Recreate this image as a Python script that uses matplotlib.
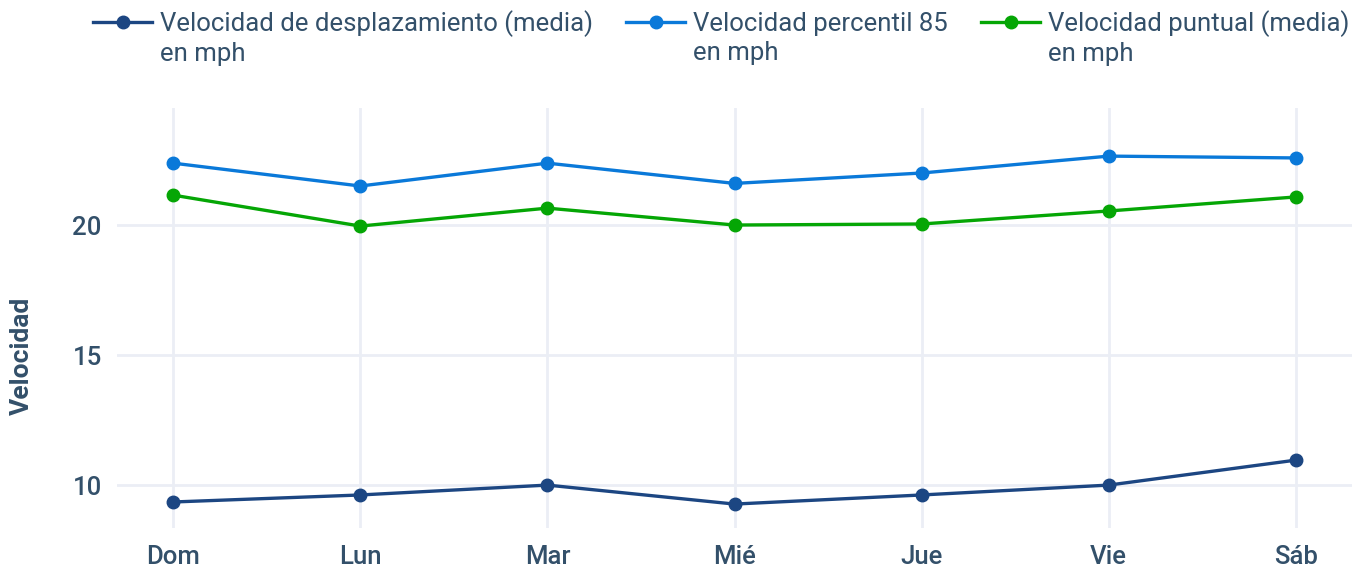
import matplotlib.pyplot as plt

plt.rcParams['font.family'] = ['Roboto', 'DejaVu Sans']

dias = ['Dom', 'Lun', 'Mar', 'Mié', 'Jue', 'Vie', 'Sáb']
vel_desplazamiento = [9.35, 9.62, 10.0, 9.27, 9.62, 10.0, 10.96]
vel_p85 = [22.38, 21.5, 22.38, 21.6, 22.0, 22.65, 22.58]
vel_puntual = [21.15, 19.96, 20.65, 20.0, 20.04, 20.54, 21.08]

labels = ['Velocidad de desplazamiento (media)', 'Velocidad percentil 85', 'Velocidad puntual (media)']
colores = ['#1c4682', '#0a79d9', '#05a605']
txt = '#33506a'

W, H = 1370, 569
fig = plt.figure(figsize=(W / 100, H / 100), dpi=100)
# plot area in pixels: x 117..1352, y 108..528
ax = fig.add_axes([117 / W, 1 - 528 / H, (1352 - 117) / W, (528 - 108) / H])

x = list(range(len(dias)))
for serie, lab, c in zip([vel_desplazamiento, vel_p85, vel_puntual], labels, colores):
    ax.plot(x, serie, color=c, lw=2.4, marker='o', ms=9, label=lab, solid_joinstyle='round')

ax.set_xlim(-0.3, 6.3)
ax.set_ylim(8.35, 24.5)
ax.set_xticks(x)
ax.set_xticklabels(dias)
ax.set_yticks([10, 15, 20])
for s in ax.spines.values():
    s.set_visible(False)
ax.grid(True, color='#ebeef5', lw=2)
ax.set_axisbelow(True)
ax.tick_params(length=0, labelsize=18.5, colors=txt)
ax.tick_params(axis='x', pad=12)
ax.tick_params(axis='y', pad=11)
for lbl in ax.get_xticklabels() + ax.get_yticklabels():
    lbl.set_fontweight('medium')

ax.set_ylabel('Velocidad', fontsize=19, fontweight='bold', color=txt)
ax.yaxis.set_label_coords(-0.067, 0.41)

leg = fig.legend(loc='upper left', bbox_to_anchor=(93 / W, 1 - 10 / H), ncol=3,
                 frameon=False, fontsize=18.5, handlelength=2.3, handletextpad=0.3,
                 columnspacing=1.3, borderpad=0, borderaxespad=0, labelcolor=txt)

# segunda linea de cada etiqueta, alineada con el texto de la leyenda
fig.canvas.draw()
for t in leg.get_texts():
    bb = t.get_window_extent()
    fig.text(bb.x0 / W, (bb.y0 - 29) / H, 'en mph', fontsize=18.5, color=txt, va='bottom', ha='left')

fig.savefig('out.png', dpi=100)
